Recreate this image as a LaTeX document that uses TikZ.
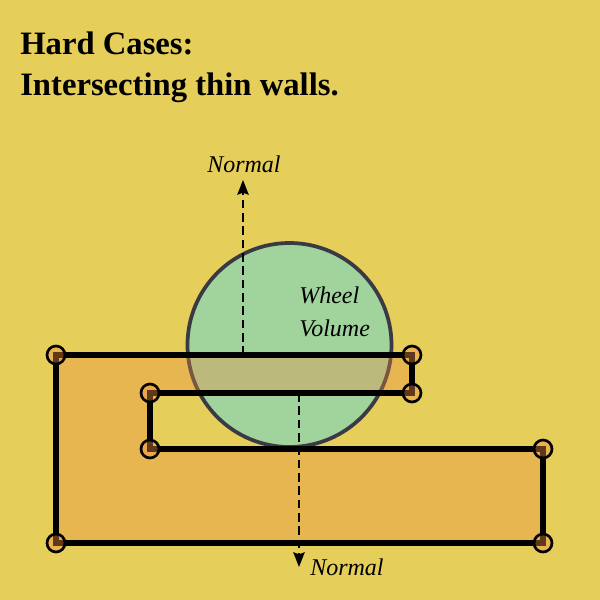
\documentclass[tikz,border=0pt]{standalone}
\usepackage{fontspec}
\setmainfont{Liberation Serif}
\usetikzlibrary{arrows.meta}

\definecolor{bgyellow}{RGB}{229,206,90}
\definecolor{wallorange}{RGB}{240,140,65}
\definecolor{wheelgreen}{RGB}{160,212,156}
\definecolor{wheelrim}{RGB}{58,58,68}

\tikzset{
    wall/.style={line width=4pt, line join=miter},
    corner/.style={line width=2pt, fill=wallorange, fill opacity=0.4},
    normal/.style={->, line width=1.6pt, dash pattern=on 6.5pt off 3.5pt},
    label/.style={font=\fontsize{18}{18}\selectfont\itshape, inner sep=0pt, anchor=base west}
}

\begin{document}
\begin{tikzpicture}[>={Stealth[length=11pt, width=8.5pt, inset=1.5pt]}, x=0.75pt, y=-0.75pt]

    % Background
    \fill[bgyellow] (0,0) rectangle (600,600);
    \useasboundingbox (0,0) rectangle (600,600);

    % Title
    \node[inner sep=0pt, anchor=base west, font=\fontsize{24.5}{24.5}\selectfont\bfseries]
        (title1) at (20,54) {Hard Cases:};
    \node[inner sep=0pt, anchor=base west, font=\fontsize{24.5}{24.5}\selectfont\bfseries]
        (title2) at (20,95) {Intersecting thin walls.};

    % Points
    \coordinate (P1) at (56,355);
    \coordinate (P2) at (412,355);
    \coordinate (P3) at (412,393);
    \coordinate (P4) at (150,393);
    \coordinate (P5) at (150,449);
    \coordinate (P6) at (543,449);
    \coordinate (P7) at (543,543);
    \coordinate (P8) at (56,543);
    \coordinate (W)  at (289.5,345);

    % Wheel volume
    \draw[wheelrim, line width=2.8pt, fill=wheelgreen] (W) circle (102);
    \node[label] (wheel)  at (299,303) {Wheel};
    \node[label] (volume) at (299,336) {Volume};

    % Thin walls
    \fill[wallorange, fill opacity=0.35]
        (P1) -- (P2) -- (P3) -- (P4) -- (P5) -- (P6) -- (P7) -- (P8) -- cycle;
    \draw[wall]
        (P1) -- (P2) -- (P3) -- (P4) -- (P5) -- (P6) -- (P7) -- (P8) -- cycle;

    % Normals
    \coordinate (N1a) at (243,355);
    \coordinate (N1b) at (243,180);
    \coordinate (N2a) at (299,393);
    \coordinate (N2b) at (299,567);
    \draw[normal] (N1a) -- (N1b);
    \draw[normal] (N2a) -- (N2b);
    \node[label] (normal1) at (207,172) {Normal};
    \node[label] (normal2) at (310,575) {Normal};

    % Corners
    \foreach \p in {P1,P2,P3,P4,P5,P6,P7,P8}
        \draw[corner] (\p) circle (9);

\end{tikzpicture}
\end{document}
